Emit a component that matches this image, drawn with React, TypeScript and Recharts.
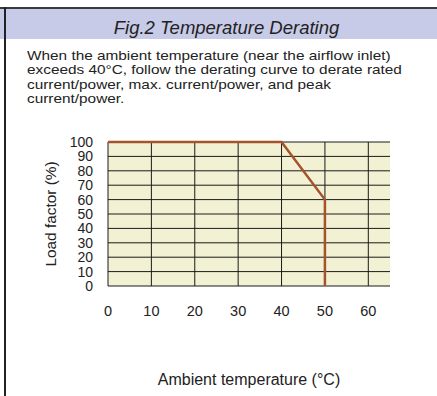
import React from 'react';
import { LineChart, Line, XAxis, YAxis, ReferenceLine, ReferenceArea } from 'recharts';

const curveTemps = [0, 40, 50, 50];
const curveLoads = [100, 100, 60, 0];
const xTicks = [0, 10, 20, 30, 40, 50, 60];
const yTicks = [0, 10, 20, 30, 40, 50, 60, 70, 80, 90, 100];
const xMax = 65;
const bodyLines = [
  'When the ambient temperature (near the airflow inlet)',
  'exceeds 40°C, follow the derating curve to derate rated',
  'current/power, max. current/power, and peak',
  'current/power.',
];

const data = curveTemps.map((t, i) => ({ temp: t, load: curveLoads[i] }));

const FONT = '"Liberation Sans", Arial, sans-serif';

export default function App() {
  return (
    <div style={{ position: 'fixed', left: 0, top: 0, width: 437, height: 396, background: '#fff', fontFamily: FONT, overflow: 'hidden' }}>
      <div style={{ position: 'absolute', left: 0, top: 9, width: 437, height: 30, background: '#c8cbe7' }} />
      <div style={{ position: 'absolute', left: 0, top: 7, width: 437, height: 2, background: '#3a3a3a' }} />
      <div style={{ position: 'absolute', left: 4, top: 7, width: 2, height: 389, background: '#222' }} />
      <div style={{ position: 'absolute', left: 0, top: 12.5, width: 437, height: 30, lineHeight: '30px', textAlign: 'center', fontStyle: 'italic', fontSize: 18.5, color: '#222', paddingLeft: 16, boxSizing: 'border-box' }}>
        Fig.2 Temperature Derating
      </div>
      <div style={{ position: 'absolute', left: 27, top: 49, fontSize: 12.8, lineHeight: '14.3px', color: '#222', whiteSpace: 'nowrap', transform: 'scaleX(1.2)', transformOrigin: '0 0' }}>
        {bodyLines.map((l, i) => (
          <div key={i}>{l}</div>
        ))}
      </div>
      <div style={{ position: 'absolute', left: 40, top: 130 }}>
        <LineChart width={370} height={260} data={data} margin={{ top: 12, right: 20, bottom: 0, left: 0 }}>
          <ReferenceArea x1={0} x2={xMax} y1={0} y2={100} fill="#f3f1d4" fillOpacity={1} stroke="none" />
          {yTicks.map((t) => (
            <ReferenceLine key={'y' + t} y={t} stroke="#1a1a1a" strokeWidth={1} />
          ))}
          {xTicks.map((t) => (
            <ReferenceLine key={'x' + t} x={t} stroke="#1a1a1a" strokeWidth={1} />
          ))}
          <XAxis
            dataKey="temp"
            type="number"
            domain={[0, xMax]}
            ticks={xTicks}
            allowDataOverflow
            axisLine={false}
            tickLine={false}
            tickSize={0}
            tickMargin={19.5}
            height={104}
            tick={{ fill: '#222', fontSize: 14.5, fontFamily: FONT }}
            label={{ value: 'Ambient temperature (°C)', position: 'insideBottom', offset: 5, fill: '#222', fontSize: 16, fontFamily: FONT }}
          />
          <YAxis
            type="number"
            domain={[0, 100]}
            ticks={yTicks}
            interval={0}
            axisLine={false}
            tickLine={false}
            tickSize={0}
            tickMargin={15}
            width={68}
            tick={{ fill: '#222', fontSize: 14, fontFamily: FONT }}
            label={{ value: 'Load factor (%)', angle: -90, position: 'insideLeft', offset: 11, fill: '#222', fontSize: 15.4, fontFamily: FONT, style: { textAnchor: 'middle' } }}
          />
          <Line
            type="linear"
            dataKey="load"
            stroke="#a5532b"
            strokeWidth={2.5}
            dot={false}
            activeDot={false}
            isAnimationActive={false}
          />
        </LineChart>
      </div>
    </div>
  );
}
